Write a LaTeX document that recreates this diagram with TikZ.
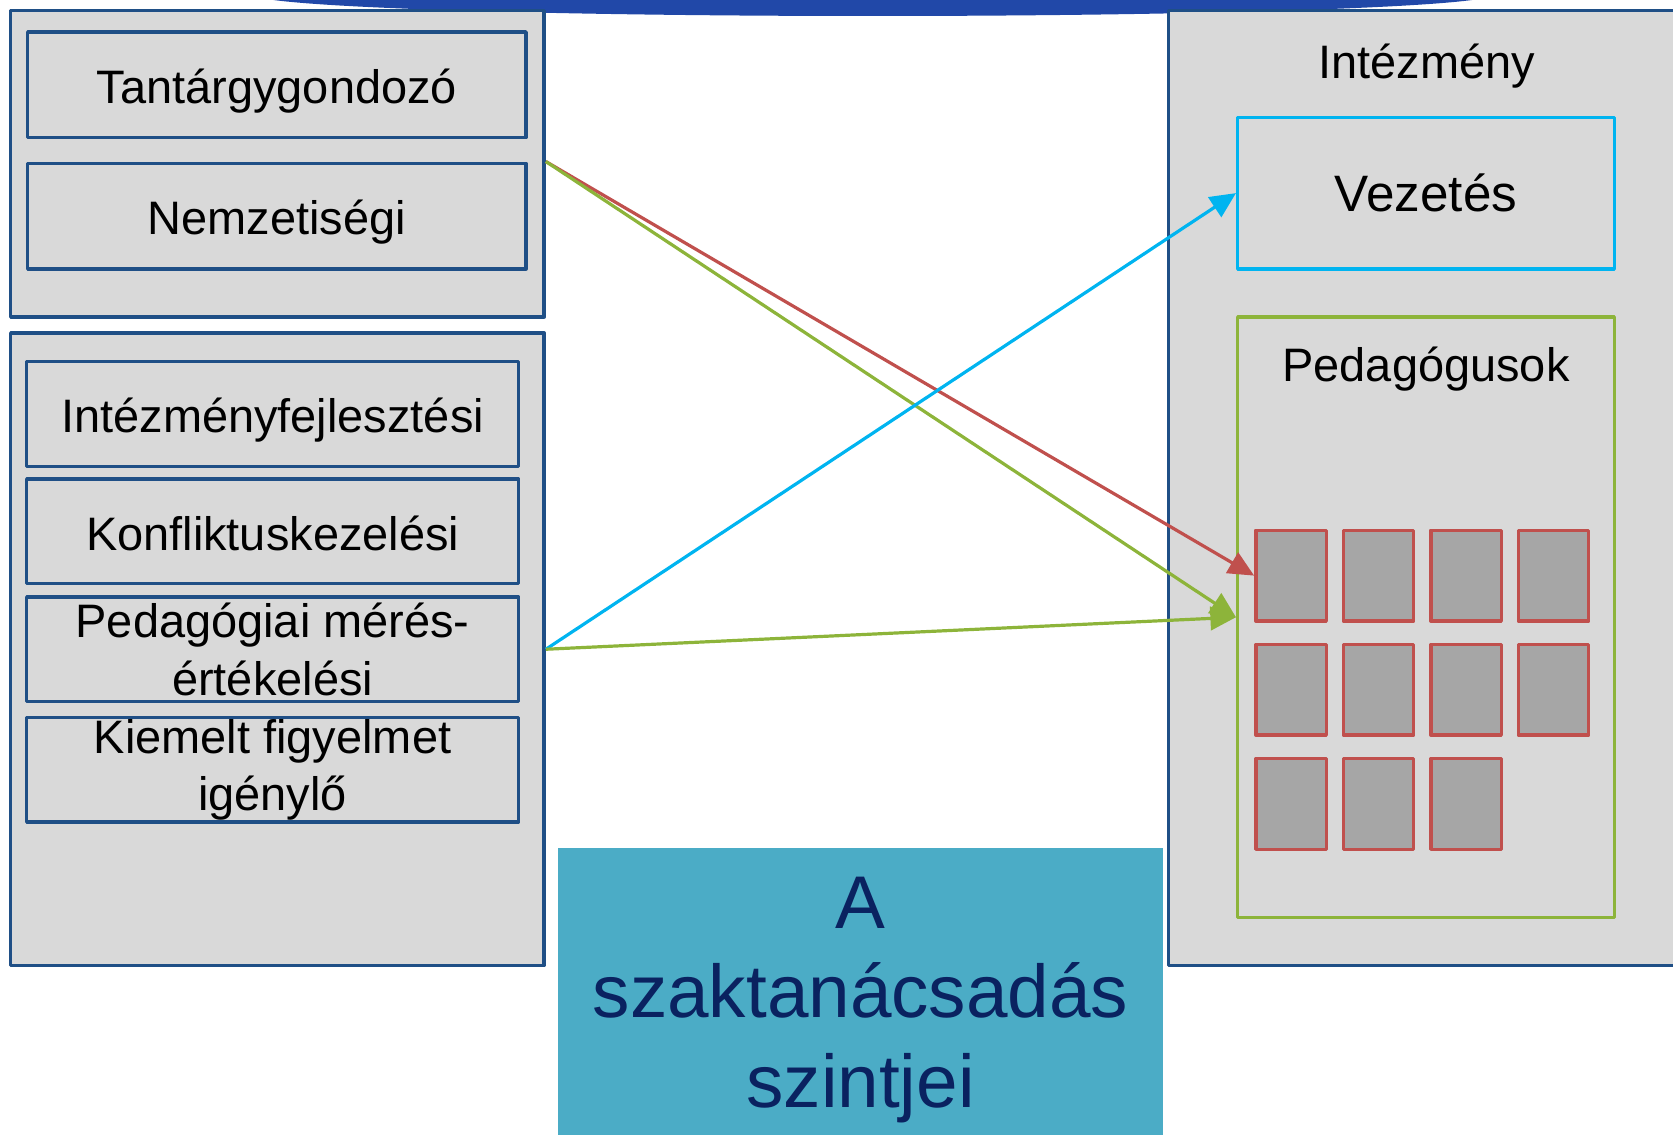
\documentclass[tikz,border=0pt]{standalone}
\usepackage{fontspec}
\setmainfont{Liberation Sans}
\usetikzlibrary{arrows.meta}
\definecolor{keret}{HTML}{1F4F86}
\definecolor{szurke}{HTML}{D9D9D9}
\definecolor{cella}{HTML}{A6A6A6}
\definecolor{piros}{HTML}{C0504D}
\definecolor{zold}{HTML}{8DB43A}
\definecolor{cian}{HTML}{00B4F0}
\definecolor{turkiz}{HTML}{4BACC6}
\definecolor{sotet}{HTML}{0A2260}
\definecolor{ivkek}{HTML}{2148A8}
\begin{document}
\begin{tikzpicture}[x=.5pt,y=-.5pt,line join=round,font=\fontsize{22}{27}\selectfont,
		panel/.style={draw=keret,fill=szurke,line width=1.6pt,inner sep=0pt},
		szint/.style={panel,minimum width=230.5pt,minimum height=49pt,align=center},
		egysor/.style={text height=17.5pt,text depth=0pt},
		tanar/.style={draw=piros,fill=cella,line width=1.6pt,minimum width=33pt,minimum height=42.5pt,inner sep=0pt},
		nyil/.style={line width=1.5pt,-{Triangle[length=12pt,width=11pt]}}]
	\useasboundingbox (0,0) rectangle (1568,1063);
	\clip (0,0) rectangle (1568,1063);
	\fill[ivkek] (818,-5) ellipse[x radius=580,y radius=20];
	% bal oldal
	\node[panel,minimum width=250pt,minimum height=143.5pt] (felso) at (260,153.5) {};
	\node[szint,egysor,minimum width=233.5pt,minimum height=49.5pt] (tant) at (259.5,79.5) {Tantárgygondozó};
	\node[szint,egysor,minimum width=233.5pt,minimum height=49.5pt] (nemz) at (259.5,202.5) {Nemzetiségi};
	\node[panel,minimum width=250pt,minimum height=296.5pt] (also) at (260,608.5) {};
	\node[szint,egysor] (fejl) at (255.5,388) {Intézményfejlesztési};
	\node[szint,egysor] (konf) at (255.5,498) {Konfliktuskezelési};
	\node[szint] (meres) at (255.5,608.5) {Pedagógiai mérés-\\értékelési};
	\node[szint] (kiem) at (255.5,721.5) {Kiemelt figyelmet\\igénylő};
	% jobb oldal
	\node[panel,minimum width=252.5pt,minimum height=447.5pt] (intez) at (1347.5,457.5) {};
	\node[anchor=base] (intezcim) at (1337,74) {Intézmény};
	\node[draw=cian,line width=1.6pt,minimum width=176.5pt,minimum height=71pt,font=\fontsize{24}{29}\selectfont] (vez) at (1336.5,181) {Vezetés};
	\node[draw=zold,line width=1.6pt,minimum width=176.5pt,minimum height=281.5pt] (ped) at (1336.5,578.5) {};
	\node[anchor=base] (pedcim) at (1336.5,358) {Pedagógusok};
	\foreach \n/\x/\y in {1/1210/539.5,2/1292/539.5,3/1374/539.5,4/1456/539.5,
		5/1210/646.5,6/1292/646.5,7/1374/646.5,8/1456/646.5,
		9/1210/753.5,10/1292/753.5,11/1374/753.5}
		\node[tanar] (t\n) at (\x,\y) {};
	% cim
	\node[fill=turkiz,minimum width=283.5pt,minimum height=153pt,anchor=north,inner sep=0pt] (cimdoboz) at (806.5,794) {};
	\node[text=sotet,align=center,anchor=base,font=\fontsize{35}{42}\selectfont] (cim) at (806.5,1038) {A\\szaktanácsadás\\szintjei};
	% nyilak
	\coordinate (fo) at (felso.east |- nemz.north);
	\draw[nyil,piros] (fo)--(t1.west);
	\draw[nyil,zold] (fo)--(ped.west);
	\draw[nyil,cian] (also.east)--(vez.west);
	\draw[nyil,zold] (also.east)--(ped.west);
\end{tikzpicture}
\end{document}
